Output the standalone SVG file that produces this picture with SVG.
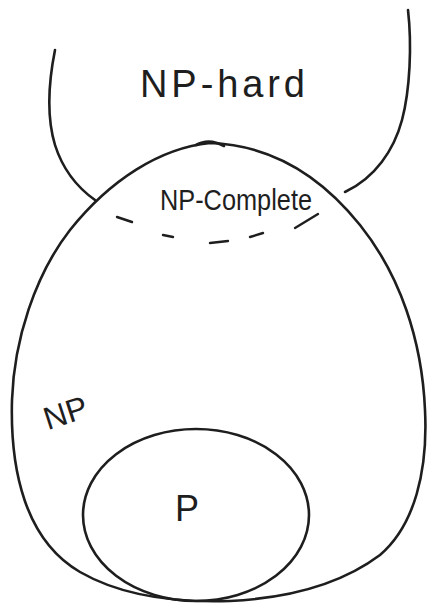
<svg xmlns="http://www.w3.org/2000/svg" width="436" height="605" viewBox="0 0 436 605">
<style>
.ln{fill:none;stroke:#1e1e1e;stroke-width:2.6;stroke-linecap:round;stroke-linejoin:round}
.ds{fill:none;stroke:#1e1e1e;stroke-width:2.4;stroke-linecap:round}
.t{font-family:"Liberation Sans",Arial,sans-serif;fill:#1e1e1e}
</style>
<rect width="436" height="605" fill="#fff"/>
<g id="np-hard">
<path class="ln" d="M55,50 C49,80 46,115 55,145 C63,170 78,188 95,200"/>
<path class="ln" d="M408,10 C412,45 410,90 402,120 C394,150 375,178 345,192"/>
<text class="t" x="140" y="97" font-size="38" textLength="165" lengthAdjust="spacing">NP-hard</text>
</g>
<g id="np">
<path class="ln" d="M210,143 C160,148 110,180 70,230 C35,275 14,340 12,400 C10,470 25,540 80,572 C120,595 170,603 230,601 C290,598 340,585 380,555 C415,525 428,470 425,410 C422,340 400,275 360,225 C320,175 270,145 210,143 Z"/>
<path class="ln" d="M196,145 C205,140 215,141 224,146"/>
<text class="t" x="42" y="426" font-size="32" transform="rotate(-18 58 410)">NP</text>
</g>
<g id="np-complete">
<text class="t" x="160" y="210" font-size="30" textLength="152" lengthAdjust="spacingAndGlyphs">NP-Complete</text>
</g>
<g id="p">
<ellipse class="ln" cx="196" cy="515" rx="113" ry="86"/>
<text class="t" x="175" y="521" font-size="36">P</text>
</g>
<g id="connectors">
<path class="ds" d="M117,217 L132,222"/>
<path class="ds" d="M163,235 L173,237"/>
<path class="ds" d="M210,243 L228,241"/>
<path class="ds" d="M250,237 L263,233"/>
<path class="ds" d="M295,228 L318,214"/>
</g>
</svg>
